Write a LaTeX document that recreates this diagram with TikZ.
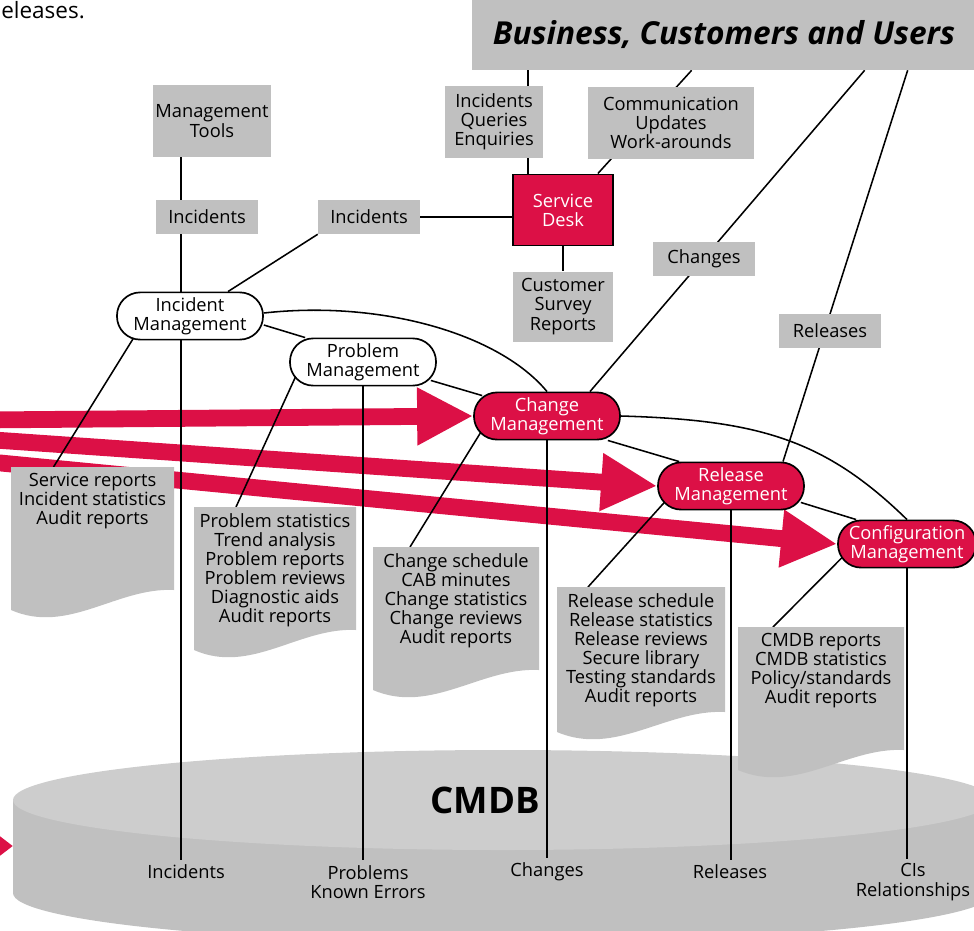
\documentclass[tikz,border=0pt]{standalone}
\usepackage{fontspec}
\setmainfont{Open Sans}
\usetikzlibrary{positioning, calc, arrows.meta, backgrounds}

\definecolor{itilred}{RGB}{220,16,70}
\definecolor{boxgray}{RGB}{192,192,192}
\definecolor{dbtop}{RGB}{205,205,205}

% sheet of paper with a wavy lower edge, hung from the text node #1
\newcommand{\papershape}[3]{%
  \path [paper] ($(#1.north)+(-#2/2,0)$) -- ++(#2,0) -- ++(0,#3)
    .. controls +(-0.35*#2,-3) and ($(#1.north)+(-#2/2+0.35*#2,#3+45)$)
    .. ($(#1.north)+(-#2/2,#3+20)$) -- cycle;}

\begin{document}
\begin{tikzpicture}[
                x=0.025cm, y=-0.025cm,
                font=\fontsize{13}{13.6}\selectfont,
                every edge/.style={draw, line width=1.1pt},
                link/.style={draw, line width=1.1pt},
                box/.style={fill=boxgray, align=center, inner sep=0pt},
                proc/.style={draw, line width=1.2pt, rounded corners=0.58cm, align=center, inner sep=0pt,
                             minimum width=3.65cm, minimum height=1.18cm, fill=white},
                redproc/.style={proc, fill=itilred, text=white},
                flow/.style={draw=itilred, line width=0.42cm, -{Triangle[length=1.4cm, width=1.35cm]}},
                doc/.style={anchor=north, align=center, inner sep=0.15cm},
                paper/.style={fill=boxgray}]

    \useasboundingbox (0,0) rectangle (974,930);

    %%% NODES
    \node [anchor=base west, inner sep=0pt, font=\fontsize{16}{20}\selectfont] (headline) at (1,18) {eleases.};
    \node [box, minimum width=12.6cm, minimum height=1.75cm, font=\fontsize{22.5}{26}\selectfont\bfseries\itshape] (business) at (724,35) {Business, Customers and Users};
    \node [box, minimum width=2.93cm, minimum height=1.78cm] (managementtools) at (212,121) {Management\\Tools};
    \node [box, minimum width=2.55cm, minimum height=0.85cm] (incidentsleft) at (207,217) {Incidents};
    \node [box, minimum width=2.55cm, minimum height=0.85cm] (incidentsdesk) at (369,217) {Incidents};
    \node [box, minimum width=2.45cm, minimum height=1.78cm] (enquiries) at (494,122) {Incidents\\Queries\\Enquiries};
    \node [box, minimum width=4.13cm, minimum height=1.78cm] (communication) at (671,123) {Communication\\Updates\\Work-arounds};
    \node [box, draw, line width=1.2pt, fill=itilred, text=white, minimum width=2.5cm, minimum height=1.78cm] (servicedesk) at (563,210) {Service\\Desk};
    \node [box, below=0.62cm of servicedesk, minimum width=2.48cm, minimum height=1.75cm] (customersurvey) {Customer\\Survey\\Reports};
    \node [box, minimum width=2.55cm, minimum height=0.85cm] (changes) at (704,259) {Changes};
    \node [box, minimum width=2.55cm, minimum height=0.85cm] (releases) at (830,331) {Releases};

    \node [proc] (incidentmanagement) at (190,316) {Incident\\Management};
    \node [proc] (problemmanagement) at (363,362) {Problem\\Management};
    \node [redproc] (changemanagement) at (547,416) {Change\\Management};
    \node [redproc] (releasemanagement) at (731,486) {Release\\Management};
    \node [redproc, minimum width=3.45cm] (configmanagement) at (907,544) {Configuration\\Management};

    \node [doc] (incidentreports) at (92.5,467) {Service reports\\Incident statistics\\Audit reports};
    \node [doc] (problemreports) at (275,507) {Problem statistics\\Trend analysis\\Problem reports\\Problem reviews\\Diagnostic aids\\Audit reports};
    \node [doc] (changereports) at (456,547) {Change schedule\\CAB minutes\\Change statistics\\Change reviews\\Audit reports};
    \node [doc] (releasereports) at (641,587) {Release schedule\\Release statistics\\Release reviews\\Secure library\\Testing standards\\Audit reports};
    \node [doc] (cmdbreports) at (821,627) {CMDB reports\\CMDB statistics\\Policy/standards\\Audit reports};

    \node [font=\fontsize{26}{30}\selectfont\bfseries] (cmdb) at (485,800) {CMDB};
    \node (dbincidents) at (186,872) {Incidents};
    \node [align=center] (dbproblems) at (368,882) {Problems\\Known Errors};
    \node (dbchanges) at (547,872) {Changes};
    \node (dbreleases) at (730,872) {Releases};
    \node [align=center] (dbcis) at (913,882) {CIs\\Relationships};

    \begin{pgfonlayer}{background}
    %%% CMDB
    \fill [boxgray] (13,800) rectangle (993,893);
    \fill [boxgray] (503,893) ellipse [x radius=490, y radius=50];
    \fill [dbtop] (503,800) ellipse [x radius=490, y radius=50];

    %%% FLOWS
    \coordinate (feedchange) at (-20,420);
    \coordinate (feedrelease) at (-20,439);
    \coordinate (feedconfig) at (-20,461);
    \coordinate (feedcmdb) at (-60,846);
    \coordinate (cmdbside) at (13,846);
    \path (feedchange) edge [flow] (changemanagement.west);
    \path (feedrelease) edge [flow] (releasemanagement.west);
    \path (feedconfig) edge [flow] (configmanagement.west);
    \path (feedcmdb) edge [flow, -{Triangle[length=1cm, width=1.45cm]}] (cmdbside);

    %%% CONNECTIONS
    \coordinate (incidentline) at ($(managementtools.south)+(-31,0)$);
    \coordinate (deskline) at ($(servicedesk.north west)+(16,0)$);
    \path (incidentline) edge (incidentline |- dbincidents.north);
    \path (problemmanagement) edge (problemmanagement |- dbproblems.north);
    \path (changemanagement) edge (changemanagement |- dbchanges.north);
    \path (releasemanagement) edge (releasemanagement |- dbreleases.north);
    \path (configmanagement) edge (configmanagement |- dbcis.north);

    \path (deskline) edge (deskline |- business.south);
    \path ($(servicedesk.north east)+(-16,0)$) edge ($(business.south west)+(220,0)$);
    \path ($(changemanagement.north)+(43,0)$) edge ($(business.south west)+(393,0)$);
    \path ($(releasemanagement.north)+(52,0)$) edge ($(business.south west)+(436,0)$);
    \path (incidentsdesk) edge (incidentsdesk -| servicedesk);
    \path (servicedesk) edge (customersurvey);
    \path (incidentsdesk.south west) edge ($(incidentmanagement.north)+(38,0)$);

    \path ($(incidentmanagement.east)+(0,9)$) edge ($(problemmanagement.north west)+(16,0)$);
    \path ($(problemmanagement.south east)+(-6,-6)$) edge ($(changemanagement.north west)+(9,4)$);
    \path ($(changemanagement.south east)+(-13,0)$) edge ($(releasemanagement.north west)+(22,0)$);
    \path ($(releasemanagement.south east)+(-4,-8)$) edge ($(configmanagement.north west)+(19,0)$);
    \draw [link] ($(incidentmanagement.east)+(0,-3)$) .. controls +(117,-13) and +(-48,-58) .. (changemanagement.north);
    \draw [link] (changemanagement.east) .. controls +(138,4) and +(-82,-80) .. (configmanagement.north);

    \path ($(incidentmanagement.south west)+(19,-5)$) edge ($(incidentreports.north)+(-39,0)$);
    \path ($(problemmanagement.south west)+(7,-11)$) edge ($(problemreports.north)+(-39,0)$);
    \path ($(changemanagement.south west)+(10,-12)$) edge ($(changereports.north)+(-46,0)$);
    \path ($(releasemanagement.south west)+(9,-10)$) edge ($(releasereports.north)+(-53,0)$);
    \path ($(configmanagement.south west)+(7,-13)$) edge ($(cmdbreports.north)+(-48,0)$);

    %%% DOCUMENTS
    \papershape{incidentreports}{163}{123}
    \papershape{problemreports}{162}{123}
    \papershape{changereports}{166}{123}
    \papershape{releasereports}{168}{125}
    \papershape{cmdbreports}{166}{123}
    \end{pgfonlayer}

\end{tikzpicture}
\end{document}
